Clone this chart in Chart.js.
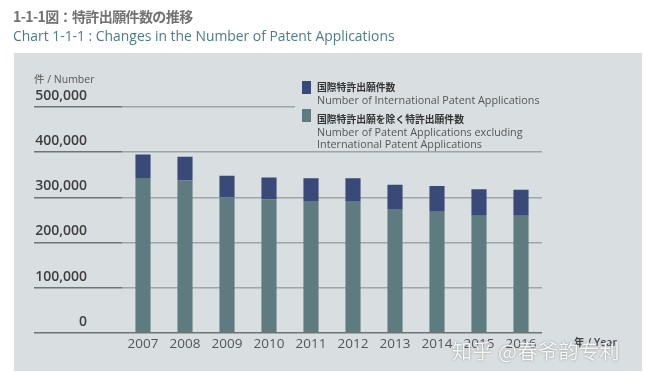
<!DOCTYPE html>
<html><head><meta charset="utf-8">
<script src="https://cdn.jsdelivr.net/npm/chart.js@4"></script>
<style>
html,body{margin:0;padding:0;background:#fff;width:649px;height:379px;overflow:hidden;font-family:"Open Sans","Noto Sans CJK JP",sans-serif;}
#panel{position:absolute;left:14px;top:53px;width:628px;height:318px;background:#d9dfe0;}
#wrap{position:absolute;left:0;top:0;width:649px;height:379px;}
.t{position:absolute;white-space:nowrap;}
#t1{left:13px;top:6px;font-family:"Noto Sans CJK JP";font-weight:700;font-size:14px;color:#727272;letter-spacing:-0.6px;}
#t2{left:13px;top:26px;font-size:13.9px;color:#4d7c89;}
#unit{left:34px;top:71px;font-size:10.5px;color:#555;font-family:"Open Sans","Noto Sans CJK JP";}
#year{left:574px;top:334px;font-size:10.5px;color:#444;font-weight:600;font-family:"Open Sans","Noto Sans CJK JP";}
#legend{position:absolute;left:295px;top:76px;width:247px;height:74px;background:#d9dfe0;}
.box{position:absolute;width:9px;height:13px;}
.jp{position:absolute;font-family:"Noto Sans CJK JP";font-weight:700;font-size:9.8px;color:#333;white-space:nowrap;}
.en{position:absolute;font-size:10.8px;color:#555;white-space:nowrap;line-height:12px;}
#wm{left:452px;top:336px;font-family:"Noto Sans CJK SC";font-size:20px;color:rgba(255,255,255,0.9);text-shadow:0 0 2px rgba(90,90,90,0.7);letter-spacing:0.5px;}
</style></head>
<body>
<div id="panel"></div>
<div id="wrap"><canvas id="c" width="649" height="379"></canvas></div>
<div class="t" id="t1">1-1-1図：特許出願件数の推移</div>
<div class="t" id="t2">Chart 1-1-1 : Changes in the Number of Patent Applications</div>
<div class="t" id="unit">件 / Number</div>
<div id="legend">
  <div class="box" style="left:7px;top:5px;background:#3a4a78;"></div>
  <div class="jp" style="left:22px;top:4px;">国際特許出願件数</div>
  <div class="en" style="left:22px;top:18px;">Number of International Patent Applications</div>
  <div class="box" style="left:7px;top:33px;background:#5e7b80;"></div>
  <div class="jp" style="left:22px;top:36px;">国際特許出願を除く特許出願件数</div>
  <div class="en" style="left:22px;top:50px;">Number of Patent Applications excluding<br>International Patent Applications</div>
</div>
<div class="t" id="year">年 / Year</div>
<div class="t" id="wm">知乎 @春爷韵专利</div>
<script>
const categories = ["2007","2008","2009","2010","2011","2012","2013","2014","2015","2016"];
const domestic = [343000, 337000, 300000, 295000, 292000, 290000, 274000, 268000, 259000, 259000];
const international = [52000, 53000, 48000, 49000, 50000, 52000, 54000, 57000, 59000, 58000];
const yTicks = [0, 100000, 200000, 300000, 400000, 500000];

new Chart(document.getElementById('c'), {
  type: 'bar',
  data: {
    labels: categories,
    datasets: [
      {label: '国際特許出願を除く特許出願件数', data: domestic, backgroundColor: '#5e7b80', barPercentage: 0.36, categoryPercentage: 1},
      {label: '国際特許出願件数', data: international, backgroundColor: '#3a4a78', barPercentage: 0.36, categoryPercentage: 1}
    ]
  },
  options: {
    responsive: false,
    animation: false,
    layout: {padding: {left: 34, right: 107, top: 107, bottom: 24}},
    plugins: {legend: {display: false}, tooltip: {enabled: false}},
    scales: {
      x: {
        stacked: true,
        grid: {display: false, drawTicks: false},
        border: {display: false},
        ticks: {color: '#555', padding: 3, font: {family: 'Open Sans', size: 13.5}}
      },
      y: {
        stacked: true,
        min: 0, max: 500000,
        afterBuildTicks: (s) => { s.ticks = yTicks.map(v => ({value: v})); },
        afterFit: (s) => { s.width = 88; },
        border: {display: false},
        grid: {
          color: (c) => c.tick && c.tick.value === 0 ? '#6f7577' : '#9ea5a8',
          tickColor: '#6f7577',
          tickLength: 88,
          lineWidth: 1.4
        },
        ticks: {
          color: '#3e3e3e', padding: -53, labelOffset: -11,
          font: {family: 'Open Sans', size: 14, weight: '600'},
          callback: (v) => v.toLocaleString('en-US')
        }
      }
    }
  }
});
</script>
</body></html>
